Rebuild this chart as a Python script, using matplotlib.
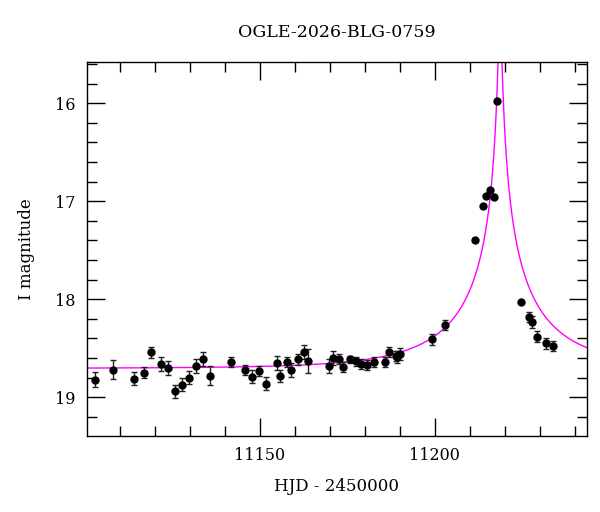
import numpy as np
import matplotlib
matplotlib.use("Agg")
import matplotlib.pyplot as plt
from matplotlib.ticker import MultipleLocator

# photometry (HJD - 2450000, I mag, error)
hjd = [11102.9, 11107.9, 11113.9, 11116.8, 11118.9, 11121.8, 11123.8, 11125.7,
       11127.8, 11129.8, 11131.7, 11133.7, 11135.7, 11141.8, 11145.8, 11147.8,
       11149.7, 11151.8, 11154.8, 11155.8, 11157.8, 11158.9, 11160.8, 11162.7,
       11163.6, 11169.7, 11170.8, 11172.6, 11173.8, 11175.7, 11177.5, 11178.9,
       11180.7, 11182.7, 11185.6, 11186.8, 11188.8, 11189.3, 11190.0, 11199.3,
       11202.9, 11211.5, 11213.6, 11214.7, 11215.6, 11216.9, 11217.7, 11224.6,
       11226.8, 11227.8, 11229.3, 11231.7, 11233.6]
imag = [18.82, 18.72, 18.81, 18.75, 18.54, 18.66, 18.70, 18.94,
        18.87, 18.80, 18.68, 18.61, 18.78, 18.64, 18.72, 18.79,
        18.73, 18.86, 18.65, 18.78, 18.64, 18.72, 18.61, 18.54,
        18.63, 18.68, 18.60, 18.61, 18.69, 18.61, 18.63, 18.66,
        18.67, 18.64, 18.64, 18.54, 18.58, 18.59, 18.56, 18.41,
        18.26, 17.40, 17.05, 16.95, 16.89, 16.96, 15.98, 18.03,
        18.18, 18.23, 18.38, 18.45, 18.48]
ierr = [0.075, 0.097, 0.068, 0.056, 0.055, 0.068, 0.073, 0.070,
        0.070, 0.068, 0.068, 0.068, 0.097, 0.054, 0.054, 0.065,
        0.054, 0.068, 0.068, 0.063, 0.056, 0.071, 0.056, 0.071,
        0.124, 0.068, 0.068, 0.050, 0.050, 0.036, 0.046, 0.050,
        0.052, 0.051, 0.051, 0.051, 0.050, 0.060, 0.060, 0.055,
        0.050, 0.012, 0.012, 0.012, 0.012, 0.012, 0.012, 0.020,
        0.048, 0.060, 0.056, 0.055, 0.050]

# point-lens model parameters
t0 = 11218.6
tE = 31.2
u0 = 0.015
fs = 0.4
I_base = 18.705


def paczynski(t):
    u = np.sqrt(u0**2 + ((t - t0) / tE)**2)
    A = (u**2 + 2) / (u * np.sqrt(u**2 + 4))
    return I_base - 2.5 * np.log10(fs * A + (1 - fs))


plt.rcParams["font.family"] = "DejaVu Serif"

fig = plt.figure(figsize=(6.0, 5.12), dpi=100)
ax = fig.add_axes([0.145, 0.1484, 0.833, 0.7305])

tt = np.linspace(11100.6, 11243.4, 4000)
ax.plot(tt, paczynski(tt), color="#ff00ff", lw=1.0, zorder=1)
ax.errorbar(hjd, imag, yerr=ierr, fmt="o", color="black", ms=5,
            ecolor="#222222", elinewidth=1.0, capsize=2.3, capthick=1.0, zorder=3)

ax.set_xlim(11100.6, 11243.4)
ax.set_ylim(19.395, 15.58)
ax.xaxis.set_major_locator(MultipleLocator(50))
ax.xaxis.set_minor_locator(MultipleLocator(10))
ax.yaxis.set_major_locator(MultipleLocator(1))
ax.yaxis.set_minor_locator(MultipleLocator(0.2))
ax.tick_params(which="both", direction="in", top=True, right=True,
               labelsize=11.5, width=1.0, pad=8)
ax.tick_params(which="major", length=13)
ax.tick_params(which="minor", length=7)
for s in ax.spines.values():
    s.set_linewidth(1.0)

ax.set_xlabel("HJD - 2450000", fontsize=12, labelpad=10)
ax.set_ylabel("I magnitude", fontsize=12, labelpad=15)
ax.set_title("OGLE-2026-BLG-0759", fontsize=12.5, pad=18)

fig.savefig("out.png", dpi=100)
